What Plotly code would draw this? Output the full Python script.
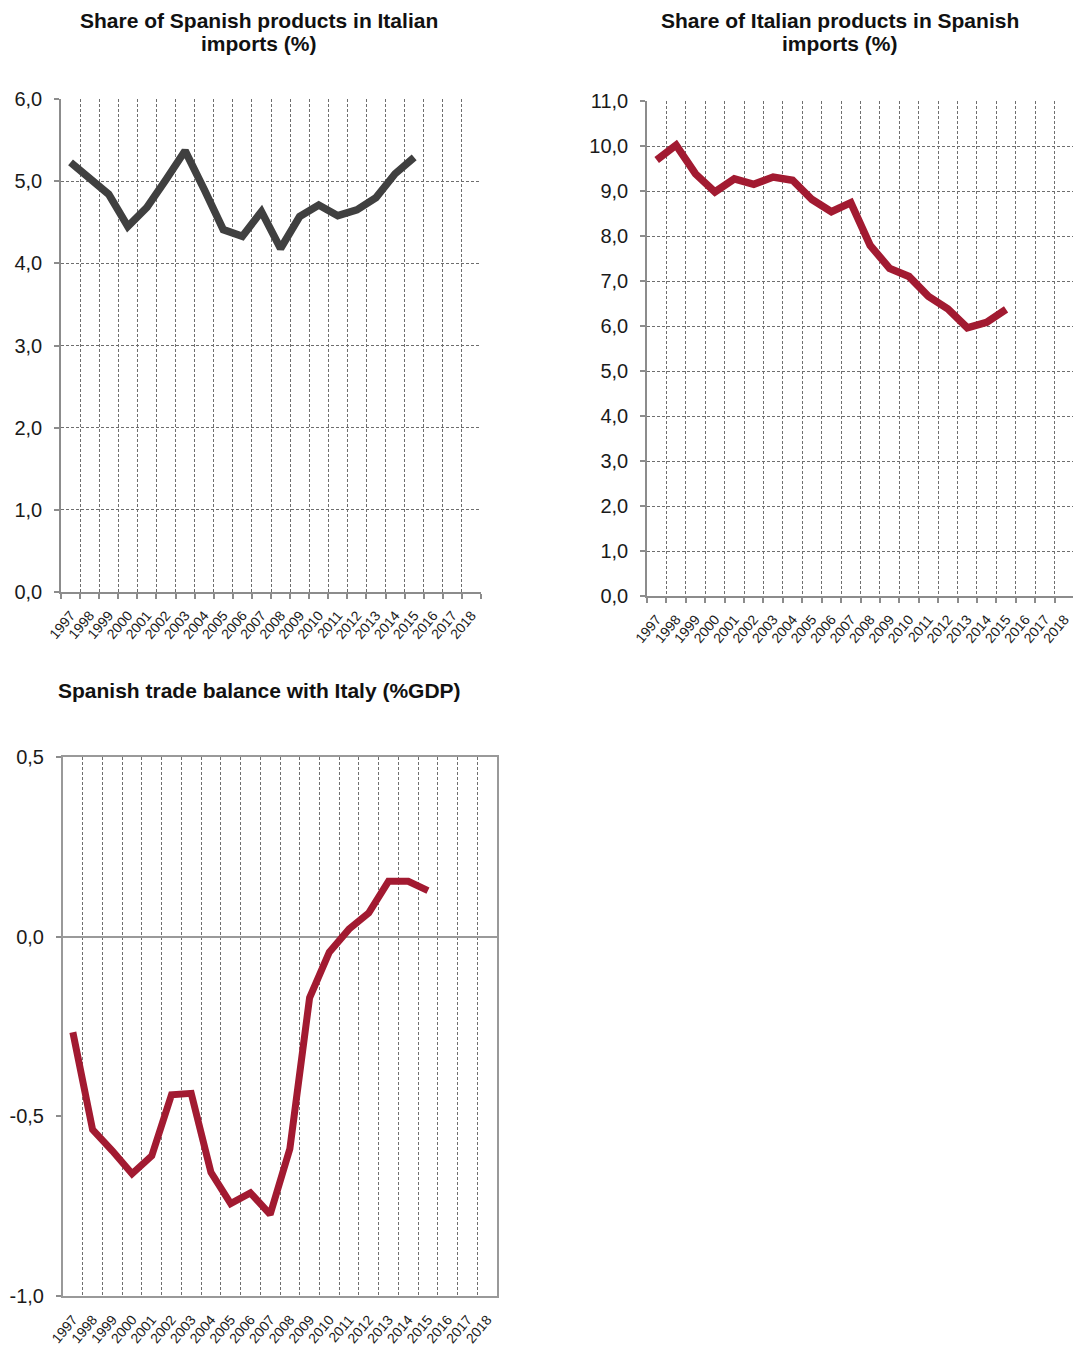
import plotly.graph_objects as go

# The page body has an 8px margin, so the figure is drawn at (8, 8) in the window.
OFF = 8
WIN_W, WIN_H = 1081, 1349
W, H = WIN_W - OFF, WIN_H - OFF

categories = [str(y) for y in range(1997, 2019)]
years = [str(y) for y in range(1997, 2016)]

share_spanish_in_italian = [5.23, 5.03, 4.84, 4.45, 4.68, 5.02, 5.37, 4.90, 4.41, 4.33,
                            4.63, 4.18, 4.57, 4.71, 4.58, 4.65, 4.80, 5.09, 5.29]
share_italian_in_spanish = [9.69, 10.02, 9.38, 8.98, 9.27, 9.15, 9.31, 9.24, 8.81, 8.54,
                            8.74, 7.79, 7.28, 7.10, 6.66, 6.38, 5.96, 6.08, 6.37]
trade_balance = [-0.266, -0.537, -0.596, -0.660, -0.610, -0.440, -0.436, -0.656, -0.743,
                 -0.713, -0.773, -0.590, -0.170, -0.043, 0.021, 0.066, 0.154, 0.154, 0.128]

balance_tickvals = [-1.0, -0.5, 0.0, 0.5]
balance_ticktext = ["-1,0", "-0,5", "0,0", "0,5"]

titles = [
    ["Share of Spanish products in Italian", "imports (%)"],
    ["Share of Italian products in Spanish", "imports (%)"],
    ["Spanish trade balance with Italy (%GDP)"],
]

FONT = "Liberation Sans, Arial, sans-serif"
RED = "#A21A31"
DARK = "#404040"
AXIS = "#8c8c8c"
GRID = "#6e6e6e"
DASH = "3px,2px"


def px_dom_x(a, b):
    return [(a - OFF) / W, (b - OFF) / W]


def px_dom_y(top, bottom):
    return [1 - (bottom - OFF) / H, 1 - (top - OFF) / H]


fig = go.Figure()
fig.add_trace(go.Scatter(x=years, y=share_spanish_in_italian, mode="lines",
                         line=dict(color=DARK, width=7.5), xaxis="x", yaxis="y",
                         showlegend=False, hoverinfo="skip"))
fig.add_trace(go.Scatter(x=years, y=share_italian_in_spanish, mode="lines",
                         line=dict(color=RED, width=7.5), xaxis="x2", yaxis="y2",
                         showlegend=False, hoverinfo="skip"))
fig.add_trace(go.Scatter(x=years, y=trade_balance, mode="lines",
                         line=dict(color=RED, width=7), xaxis="x3", yaxis="y3",
                         showlegend=False, hoverinfo="skip"))

xbase = dict(type="category", categoryorder="array", categoryarray=categories,
             range=[-0.5, len(categories) - 0.5], tickson="boundaries",
             tickangle=-50, tickfont=dict(family=FONT, size=14, color="#1a1a1a"),
             showgrid=True, gridcolor=GRID, griddash=DASH, gridwidth=1,
             showline=True, linecolor=AXIS, linewidth=1.5, fixedrange=True,
             ticklabelstandoff=8, automargin=False)
ybase = dict(tickfont=dict(family=FONT, size=20, color="#1a1a1a"),
             showgrid=True, gridcolor=GRID, griddash=DASH, gridwidth=1,
             showline=True, linecolor=AXIS, linewidth=1.5, ticks="outside",
             ticklen=5, tickcolor=AXIS, tickwidth=1.5, tickformat=".1f",
             zeroline=False, fixedrange=True, ticklabelstandoff=8, automargin=False)

layout = dict(
    width=W, height=H,
    margin=dict(l=0, r=0, t=0, b=0, pad=0, autoexpand=False),
    paper_bgcolor="white", plot_bgcolor="white",
    separators=", ",
    showlegend=False,
    xaxis=dict(xbase, domain=px_dom_x(61, 481), anchor="y", ticks="outside",
               ticklen=5, tickcolor=AXIS, tickwidth=1.5),
    yaxis=dict(ybase, domain=px_dom_y(99, 592), anchor="x", range=[0, 6], dtick=1),
    xaxis2=dict(xbase, domain=px_dom_x(647, 1074), anchor="y2", ticks="outside",
                ticklen=5, tickcolor=AXIS, tickwidth=1.5),
    yaxis2=dict(ybase, domain=px_dom_y(101, 596), anchor="x2", range=[0, 11], dtick=1),
    xaxis3=dict(xbase, domain=px_dom_x(63, 497), anchor="y3", ticks="",
                mirror=True, linewidth=2, linecolor="#999999"),
    yaxis3=dict(ybase, domain=px_dom_y(757, 1296), anchor="x3", range=[-1, 0.5],
                tickmode="array", tickvals=balance_tickvals, ticktext=balance_ticktext,
                showgrid=False, zeroline=True, zerolinecolor="#9a9a9a",
                zerolinewidth=1.5, mirror=True, linewidth=2, linecolor="#999999"),
)

ann = []
title_pos = [(259, [20, 44]), (840, [20, 44]), (259, [691])]
for (cx, ys), lines in zip(title_pos, titles):
    for yy, txt in zip(ys, lines):
        ann.append(dict(text="<b>" + txt + "</b>", x=(cx - OFF) / W, y=1 - (yy - OFF) / H,
                        xref="paper", yref="paper", xanchor="center", yanchor="middle",
                        showarrow=False, font=dict(family=FONT, size=21, color="#111111")))
layout["annotations"] = ann

fig.update_layout(**layout)
fig.write_html("out.html")
